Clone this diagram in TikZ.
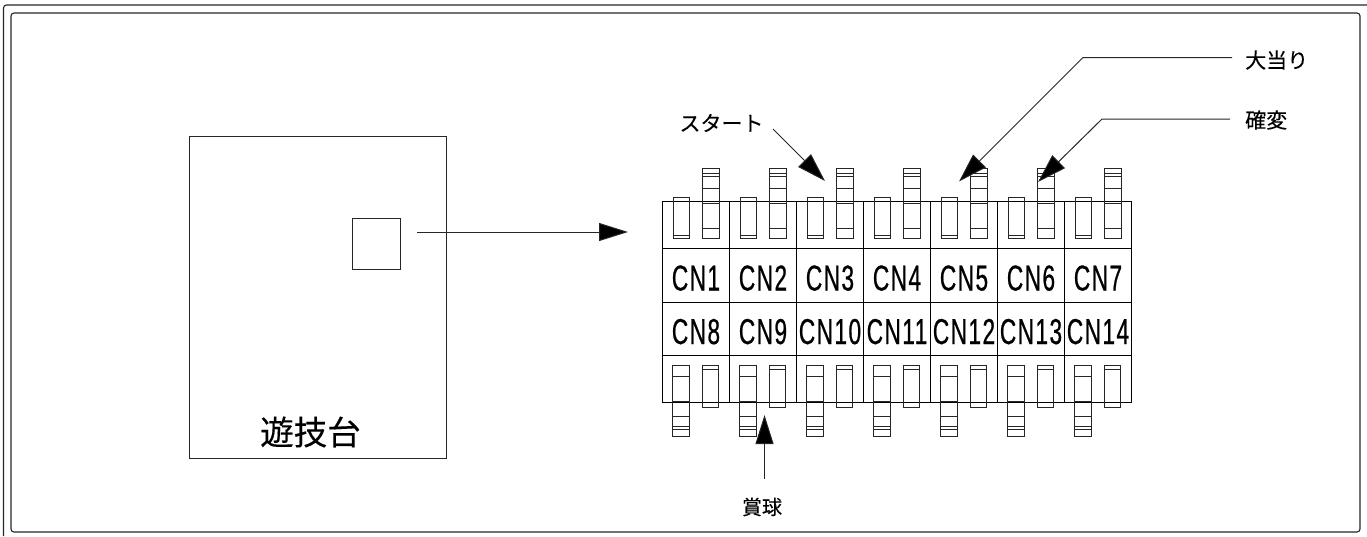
\documentclass[tikz,border=0pt]{standalone}
\usepackage{fontspec}
\usetikzlibrary{arrows.meta}
\newfontfamily\jpfont[FakeBold=0.25]{Noto Sans CJK JP}
\newfontfamily\cnfont[FakeStretch=0.63,LetterSpace=4,FakeBold=0.6]{Liberation Sans}
\tikzset{
  x=1pt,y=-1pt,
  line/.style={draw=black!85,line width=1.1pt},
  arrowline/.style={draw=black!85,line width=1pt,-{Triangle[length=29pt,width=18pt,fill=black]}},
  cell/.style={draw=black,line width=1.1pt,minimum width=67pt,minimum height=53.5pt,inner sep=0pt,text height=30pt,text depth=0pt,font=\cnfont\fontsize{36pt}{36pt}\selectfont},
  pincell/.style={draw=black,line width=1.1pt,minimum width=67pt,inner sep=0pt},
  label/.style={inner sep=0pt,font=\jpfont\fontsize{#1pt}{#1pt}\selectfont},
  pinline/.style={draw=black!85,line width=1pt},
  toppins/.pic={
    \draw[pinline] (10.5,-4.5) rectangle (26.5,37) (10.5,34) -- (26.5,34);
    \draw[pinline] (39.5,-33.5) rectangle (56.5,37);
    \foreach \q in {-28,-25,-13.5,1.5,26.5} \draw[pinline] (39.5,\q) -- (56.5,\q);
  },
  botpins/.pic={
    \draw[pinline] (10,-37) rectangle (26.5,33.5);
    \foreach \q in {-26.8,-1.5,13.5,24,26.5} \draw[pinline] (10,\q) -- (26.5,\q);
    \draw[pinline] (40,-37) rectangle (56,4.5) (40,-33.5) -- (56,-33.5);
  }
}
\begin{document}
\begin{tikzpicture}
\useasboundingbox (0,0) rectangle (1367,536);
\draw[line,rounded corners=3pt] (3.5,536) -- (3.5,5) -- (1367,5);
\draw[line,rounded corners=3pt] (11,13) rectangle (1360,532);
% game board
\node[draw=black!85,line width=0.9pt,minimum width=257pt,minimum height=322pt,inner sep=0pt] (board) at (317.5,297) {};
\node[draw=black!85,line width=0.9pt,minimum width=48pt,minimum height=51pt,inner sep=0pt] (small) at (376,243.5) {};
\node[label=33.5] (boardlabel) at (310.5,432) {遊技台};
% connector block
\foreach \n [count=\i from 0] in {1,...,7} {
  \node[pincell,minimum height=47.3pt] (T\n) at (696+67*\i,225) {};
  \node[cell] (A\n) at (696+67*\i,275.5) {CN\n};
  \pgfmathtruncatemacro{\m}{\n+7}
  \node[cell] (B\n) at (696+67*\i,329) {CN\m};
  \node[pincell,minimum height=47pt] (U\n) at (696+67*\i,379.2) {};
  \pic at (662.8+67*\i,201.8) {toppins};
  \pic at (662.8+67*\i,402.8) {botpins};
}
% main arrow
\coordinate (mainS) at (417,232);
\coordinate (mainE) at (628,232);
\draw[arrowline] (mainS) -- (mainE);
% labels
\node[label=21,anchor=center] (start) at (721.5,123) {スタート};
\node[label=21,anchor=west] (big) at (1245,60) {大当り};
\node[label=21,anchor=west] (kaku) at (1245,120) {確変};
\node[label=20] (prize) at (762,507) {賞球};
\coordinate (a1) at (773,129);
\coordinate (a2) at (825,181);
\draw[arrowline] (a1) -- (a2);
\coordinate (b0) at (1232,57.5);
\coordinate (b1) at (1083,57.5);
\coordinate (b2) at (959,181.5);
\draw[arrowline] (b0) -- (b1) -- (b2);
\coordinate (c0) at (1230,119);
\coordinate (c1) at (1102,119);
\coordinate (c2) at (1038,182);
\draw[arrowline] (c0) -- (c1) -- (c2);
\coordinate (d0) at (764.5,479);
\coordinate (d1) at (764.5,415);
\draw[arrowline] (d0) -- (d1);
\end{tikzpicture}
\end{document}
